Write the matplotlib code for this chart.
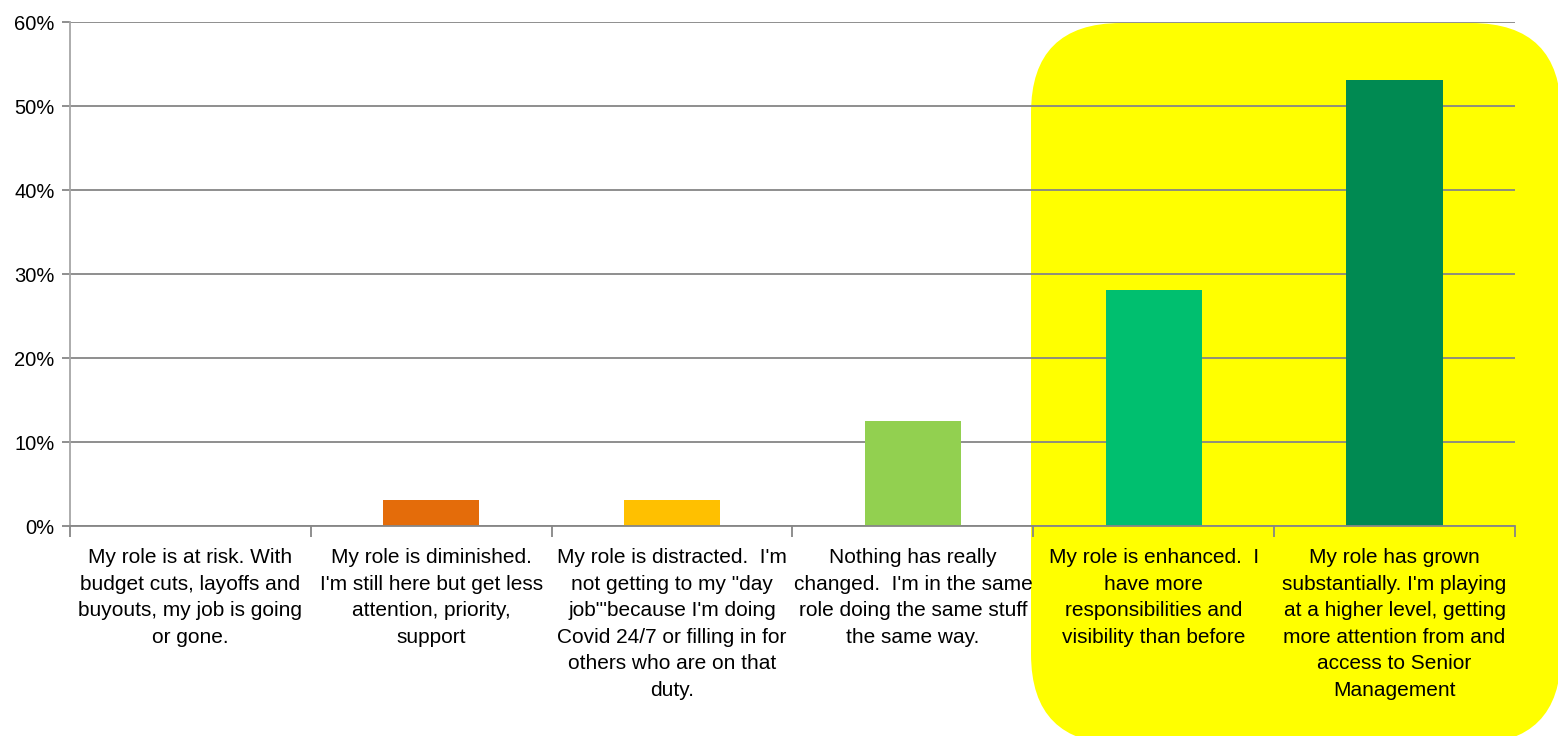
import matplotlib
matplotlib.use("Agg")
import matplotlib.pyplot as plt
from matplotlib.patches import FancyBboxPatch
from matplotlib.transforms import IdentityTransform
from matplotlib.ticker import FixedLocator, PercentFormatter

categories = [
    "My role is at risk. With\nbudget cuts, layoffs and\nbuyouts, my job is going\nor gone.",
    "My role is diminished.\nI'm still here but get less\nattention, priority,\nsupport",
    "My role is distracted.  I'm\nnot getting to my \"day\njob\"'because I'm doing\nCovid 24/7 or filling in for\nothers who are on that\nduty.",
    "Nothing has really\nchanged.  I'm in the same\nrole doing the same stuff\nthe same way.",
    "My role is enhanced.  I\nhave more\nresponsibilities and\nvisibility than before",
    "My role has grown\nsubstantially. I'm playing\nat a higher level, getting\nmore attention from and\naccess to Senior\nManagement",
]
values = [0.0, 3.125, 3.125, 12.5, 28.125, 53.125]
colors = ["#4F81BD", "#E46C0A", "#FFC000", "#92D050", "#00BF6F", "#008A52"]
yticks = [0, 10, 20, 30, 40, 50, 60]

W, H = 1558, 736
fig = plt.figure(figsize=(W / 100, H / 100), dpi=100)
fig.patch.set_facecolor("white")
ax = fig.add_axes([70 / W, 1 - 526 / H, (1515 - 70) / W, (526 - 22) / H])
ax.set_facecolor("none")

# highlight box (pixel coords, origin bottom-left)
box = FancyBboxPatch((1031, -8), 530, 736 - 23 + 8,
                     boxstyle="round,pad=0,rounding_size=90",
                     transform=IdentityTransform(), facecolor="#FFFF00",
                     edgecolor="none", zorder=0.1, clip_on=False)
ax.add_patch(box)

x = list(range(len(categories)))
ax.bar(x, values, width=0.4, color=colors, zorder=2)

ax.set_xlim(-0.5, len(categories) - 0.5)
ax.set_ylim(0, 60)
ax.yaxis.set_major_locator(FixedLocator(yticks))
ax.yaxis.set_major_formatter(PercentFormatter(decimals=0))
ax.grid(axis="y", color="#868686", linewidth=1.3, zorder=0.5)
ax.set_axisbelow(True)

for s in ["top", "right"]:
    ax.spines[s].set_visible(False)
ax.spines["left"].set_color("#A6A6A6")
ax.spines["left"].set_linewidth(1.3)
ax.spines["bottom"].set_color("#868686")
ax.spines["bottom"].set_linewidth(1.3)

ax.tick_params(axis="y", length=6, color="#868686", width=1.3, labelsize=14.5, pad=5)
ax.set_xticks([i - 0.5 for i in range(len(categories) + 1)], minor=False)
ax.set_xticklabels([""] * (len(categories) + 1))
ax.tick_params(axis="x", which="major", length=8, color="#868686", width=1.3)
ax.set_xticks(x, minor=True)
ax.set_xticklabels(categories, minor=True, fontsize=15, linespacing=1.5,
                   family=["Liberation Sans"])
ax.tick_params(axis="x", which="minor", length=0, pad=16)

for lab in ax.get_yticklabels():
    lab.set_family("Liberation Sans")

fig.savefig("out.png", dpi=100)
